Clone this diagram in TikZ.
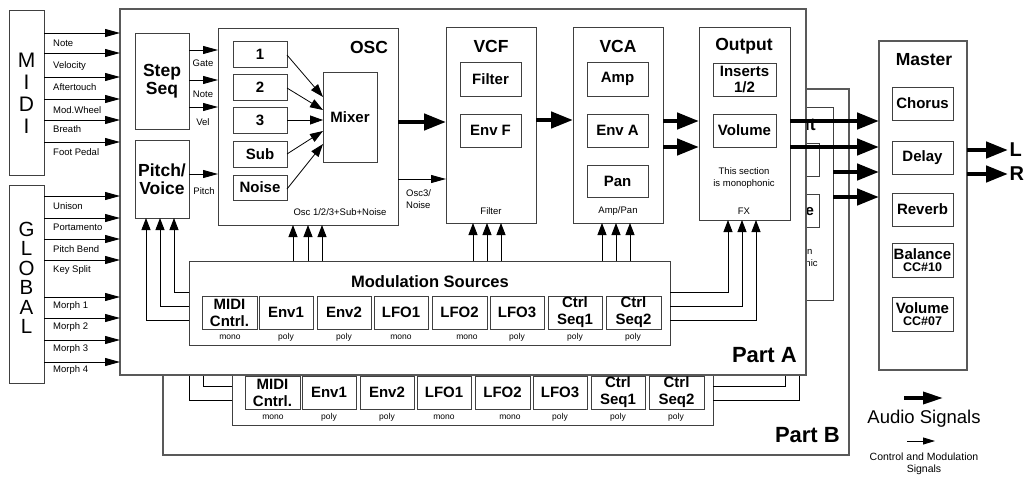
\documentclass[tikz,border=0pt]{standalone}
\usepackage{fontspec}
\setmainfont{Liberation Sans}
\usetikzlibrary{arrows.meta}
\tikzset{
  box/.style={draw=black!75, line width=1pt, fill=white, inner sep=0pt, outer sep=0pt, align=center},
  partbox/.style={box, line width=1.2pt, draw=black!65},
  partlbl/.style={font=\fontsize{22}{22}\selectfont\bfseries, anchor=base east, inner sep=0pt},
  hdr/.style={font=\fontsize{17.5}{18}\selectfont\bfseries, inner sep=0pt, align=center},
  bt/.style={font=\fontsize{15}{16.5}\selectfont\bfseries},
  mbt/.style={font=\fontsize{15}{17}\selectfont\bfseries},
  lbl/.style={font=\fontsize{9.5}{11.5}\selectfont, inner sep=0pt, align=center},
  tiny/.style={font=\fontsize{8.5}{10}\selectfont, inner sep=0pt},
  big/.style={font=\fontsize{21}{22}\selectfont, inner sep=0pt, align=center},
  ctrlarr/.style={line width=0.9pt, -{Triangle[length=15pt,width=8pt]}},
  audioarr/.style={line width=4.5pt, -{Triangle[length=22pt,width=16pt]}},
  modarr/.style={line width=0.9pt, -{Triangle[length=12pt,width=9pt]}},
  mixarr/.style={line width=0.8pt, -{Triangle[length=13pt,width=9pt]}},
}
\newif\ifbackpart
% box whose text is always drawn
\newcommand{\bx}[7]{\node[#1, minimum width={(#5-#3)*1pt}, minimum height={(#6-#4)*1pt}] (#2) at ({(#3+#5)/2},{(#4+#6)/2}) {#7};}
% box whose text is left out in the part that lies behind
\newcommand{\bh}[7]{\ifbackpart\node[#1, minimum width={(#5-#3)*1pt}, minimum height={(#6-#4)*1pt}] (#2) at ({(#3+#5)/2},{(#4+#6)/2}) {};\else\node[#1, minimum width={(#5-#3)*1pt}, minimum height={(#6-#4)*1pt}] (#2) at ({(#3+#5)/2},{(#4+#6)/2}) {#7};\fi}
\newcommand{\synthpart}[2]{%
  \bx{partbox}{#1part}{120}{9}{806}{375}{}%
  \node[partlbl] (#1plbl) at (797,362) {#2};%
  % step seq / pitch voice
  \bh{box,hdr}{#1step}{135}{33}{189}{129}{Step\\Seq}%
  \bh{box,hdr}{#1pitch}{135}{140}{189}{218}{Pitch/\\Voice}%
  % OSC
  \bx{box}{#1osc}{218}{28}{398}{225}{}%
  \bh{box,bt}{#1oa}{233}{41}{287}{67}{1}%
  \bh{box,bt}{#1ob}{233}{74}{287}{100}{2}%
  \bh{box,bt}{#1oc}{233}{107}{287}{133}{3}%
  \bh{box,bt}{#1osub}{233}{141}{287}{167}{Sub}%
  \bh{box,bt}{#1onoise}{233}{175}{287}{200}{Noise}%
  \bh{box,bt}{#1mix}{323}{72}{377}{162}{Mixer}%
  \draw[mixarr] (#1oa.east |- 0,55) -- (#1mix.west |- 0,97);%
  \draw[mixarr] (#1ob.east |- 0,88) -- (#1mix.west |- 0,110);%
  \draw[mixarr] (#1oc.east |- 0,120) -- (#1mix.west |- 0,120);%
  \draw[mixarr] (#1osub.east |- 0,154) -- (#1mix.west |- 0,131);%
  \draw[mixarr] (#1onoise.east |- 0,189) -- (#1mix.west |- 0,144);%
  % VCF
  \bx{box}{#1vcf}{446}{27}{536}{223}{}%
  \bh{box,bt}{#1filt}{460}{62}{521}{96}{Filter}%
  \bh{box,bt}{#1envf}{460}{114}{521}{147}{Env F}%
  % VCA
  \bx{box}{#1vca}{573}{27}{663}{223}{}%
  \bh{box,bt}{#1amp}{587}{62}{648}{96}{Amp}%
  \bh{box,bt}{#1enva}{587}{114}{648}{147}{Env A}%
  \bh{box,bt}{#1pan}{587}{165}{648}{197}{Pan}%
  % Output
  \bx{box}{#1out}{699}{27}{790}{220}{}%
  \bh{box,bt}{#1ins}{713}{63}{776}{96}{Inserts\\1/2}%
  \bh{box,bt}{#1vol}{713}{114}{776}{147}{Volume}%
  \ifbackpart
    \begin{scope}
      \clip (763,0) rectangle (900,400);
      \node[hdr] (#1outt) at (744,46) {Output};
      \node[bt] (#1volt) at (#1vol) {Volume};
      \node[lbl] (#1outn) at (744,178) {This section\\is monophonic};
    \end{scope}
  \else
    \node[hdr] (#1osct) at (369,47) {OSC};%
    \node[lbl] (#1oscl) at (340,212) {Osc 1/2/3+Sub+Noise};%
    \node[hdr] (#1vcft) at (491,46) {VCF};%
    \node[lbl] (#1vcfl) at (491,211) {Filter};%
    \node[hdr] (#1vcat) at (618,46) {VCA};%
    \node[lbl] (#1vcal) at (618,211) {Amp/Pan};%
    \node[hdr] (#1outt) at (744,46) {Output};%
    \node[lbl] (#1outn) at (744,178) {This section\\is monophonic};%
    \node[lbl] (#1outl) at (744,211) {FX};%
    \node[lbl] (#1lgate) at (203,63) {Gate};%
    \node[lbl] (#1lnote) at (203,94) {Note};%
    \node[lbl] (#1lvel) at (203,122) {Vel};%
    \node[lbl] (#1lpitch) at (204,191) {Pitch};%
    \node[lbl, align=left, anchor=west] (#1lo3) at (406,199) {Osc3/\\Noise};%
  \fi
  % step seq arrows
  \draw[ctrlarr] (#1step.east |- 0,50) -- (#1osc.west |- 0,50);%
  \draw[ctrlarr] (#1step.east |- 0,80) -- (#1osc.west |- 0,80);%
  \draw[ctrlarr] (#1step.east |- 0,107) -- (#1osc.west |- 0,107);%
  \draw[ctrlarr] (#1pitch.east |- 0,174) -- (#1osc.west |- 0,174);%
  % audio chain
  \draw[audioarr] (#1osc.east |- 0,122) -- (#1vcf.west |- 0,122);%
  \draw[ctrlarr] (#1osc.east |- 0,179) -- (#1vcf.west |- 0,179);%
  \draw[audioarr] (#1vcf.east |- 0,120) -- (#1vca.west |- 0,120);%
  \draw[audioarr] (#1vca.east |- 0,121) -- (#1out.west |- 0,121);%
  \draw[audioarr] (#1vca.east |- 0,147) -- (#1out.west |- 0,147);%
  % modulation sources
  \bx{box}{#1mod}{189}{261}{670}{345}{}%
  \ifbackpart\else
    \node[font=\fontsize{16.5}{17}\selectfont\bfseries, inner sep=0pt] (#1modt) at (430,282) {Modulation Sources};%
  \fi
  \bx{box,mbt}{#1mmidi}{202}{296}{257}{329}{MIDI\\Cntrl.}%
  \bx{box,mbt}{#1menva}{259}{296}{313}{329}{Env1}%
  \bx{box,mbt}{#1menvb}{317}{296}{371}{329}{Env2}%
  \bx{box,mbt}{#1mlfoa}{374}{296}{428}{329}{LFO1}%
  \bx{box,mbt}{#1mlfob}{432}{296}{487}{329}{LFO2}%
  \bx{box,mbt}{#1mlfoc}{490}{296}{544}{329}{LFO3}%
  \bx{box,mbt}{#1mseqa}{548}{296}{602}{329}{Ctrl\\Seq1}%
  \bx{box,mbt}{#1mseqb}{606}{296}{661}{329}{Ctrl\\Seq2}%
  \node[tiny] (#1ta) at (230,337) {mono};%
  \node[tiny] (#1tb) at (286,337) {poly};%
  \node[tiny] (#1tc) at (344,337) {poly};%
  \node[tiny] (#1td) at (401,337) {mono};%
  \node[tiny] (#1te) at (467,337) {mono};%
  \node[tiny] (#1tf) at (517,337) {poly};%
  \node[tiny] (#1tg) at (575,337) {poly};%
  \node[tiny] (#1th) at (633,337) {poly};%
  % modulation connectors
  \draw[modarr] (#1mod.west |- 0,292) -| (#1pitch.south -| 174,0);%
  \draw[modarr] (#1mod.west |- 0,306) -| (#1pitch.south -| 160,0);%
  \draw[modarr] (#1mod.west |- 0,320) -| (#1pitch.south -| 146,0);%
  \foreach \xx in {293,308,322} {\draw[modarr] (#1mod.north -| \xx,0) -- (#1osc.south -| \xx,0);}%
  \foreach \xx in {473,487,501} {\draw[modarr] (#1mod.north -| \xx,0) -- (#1vcf.south -| \xx,0);}%
  \foreach \xx in {602,616,630} {\draw[modarr] (#1mod.north -| \xx,0) -- (#1vca.south -| \xx,0);}%
  \draw[modarr] (#1mod.east |- 0,292) -| (#1out.south -| 728,0);%
  \draw[modarr] (#1mod.east |- 0,306) -| (#1out.south -| 742,0);%
  \draw[modarr] (#1mod.east |- 0,320) -| (#1out.south -| 756,0);%
}
\begin{document}
\begin{tikzpicture}[x=1pt,y=-1pt]
\useasboundingbox (0,0) rectangle (1026,477);
\fill[white] (0,0) rectangle (1026,477);
% Part B behind
\backparttrue
\begin{scope}[shift={(43,80)}]
\synthpart{B}{Part B}
\end{scope}
% Part A in front
\backpartfalse
\synthpart{A}{Part A}
% Master
\bx{partbox}{master}{879}{41}{967}{370}{}
\node[hdr] (mastert) at (924,60) {Master};
\bx{box,bt}{chorus}{892}{87}{953}{120}{Chorus}
\bx{box,bt}{delay}{892}{141}{953}{174}{Delay}
\bx{box,bt}{reverb}{892}{193}{953}{226}{Reverb}
\bx{box,font=\fontsize{15}{12}\selectfont\bfseries}{balance}{892}{243}{953}{277}{Balance\\{\fontsize{12.5}{12}\selectfont CC\#10}}
\bx{box,font=\fontsize{15}{12}\selectfont\bfseries}{mvol}{892}{297}{953}{331}{Volume\\{\fontsize{12.5}{12}\selectfont CC\#07}}
\draw[audioarr] (Aout.east |- 0,121) -- (master.west |- 0,121);
\draw[audioarr] (Aout.east |- 0,147) -- (master.west |- 0,147);
\draw[audioarr] (Bout.east |- 0,172) -- (master.west |- 0,172);
\draw[audioarr] (Bout.east |- 0,197) -- (master.west |- 0,197);
\node[font=\fontsize{20}{20}\selectfont\bfseries, inner sep=1.5pt, anchor=west] (outL) at (1008,150) {L};
\node[font=\fontsize{20}{20}\selectfont\bfseries, inner sep=1.5pt, anchor=west] (outR) at (1008,174) {R};
\draw[audioarr] (master.east |- outL.west) -- (outL.west);
\draw[audioarr] (master.east |- outR.west) -- (outR.west);
% MIDI
\bx{box}{midi}{9}{10}{44}{175}{}
\node[big] (midit) at (26.5,93) {M\\I\\D\\I};
\foreach \yy/\ly/\tt [count=\i] in {33/43/Note,53/66/Velocity,77/87/Aftertouch,99/110/Mod.Wheel,120/129/Breath,142/152/Foot Pedal}{
  \draw[ctrlarr] (midi.east |- 0,\yy) -- (Apart.west |- 0,\yy);
  \node[lbl, anchor=west] (ml\i) at (53,\ly) {\tt};
}
% GLOBAL
\bx{box}{glob}{9}{185}{44}{383}{}
\node[big, font=\fontsize{20.5}{19.5}\selectfont] (globt) at (26.5,278) {G\\L\\O\\B\\A\\L};
\foreach \yy/\ly/\tt [count=\i] in {196/206/Unison,218/227/Portamento,239/249/Pitch Bend,260/270/Key Split,297/306/Morph 1,318/327/Morph 2,340/349/Morph 3,362/370/Morph 4}{
  \draw[ctrlarr] (glob.east |- 0,\yy) -- (Apart.west |- 0,\yy);
  \node[lbl, anchor=west] (gl\i) at (53,\ly) {\tt};
}
% Legend
\coordinate (lga) at (904,398);
\coordinate (lgb) at (943,398);
\draw[line width=3.5pt, -{Triangle[length=20pt,width=12pt]}] (lga) -- (lgb);
\node[font=\fontsize{18.5}{20}\selectfont, inner sep=0pt] (lgt) at (924,419) {Audio Signals};
\coordinate (lgc) at (907,441);
\coordinate (lgd) at (935,441);
\draw[line width=0.9pt, -{Triangle[length=12pt,width=7pt]}] (lgc) -- (lgd);
\node[font=\fontsize{10.5}{12}\selectfont, inner sep=0pt, align=center] (lgu) at (924,464) {Control and Modulation\\Signals};
\end{tikzpicture}
\end{document}
